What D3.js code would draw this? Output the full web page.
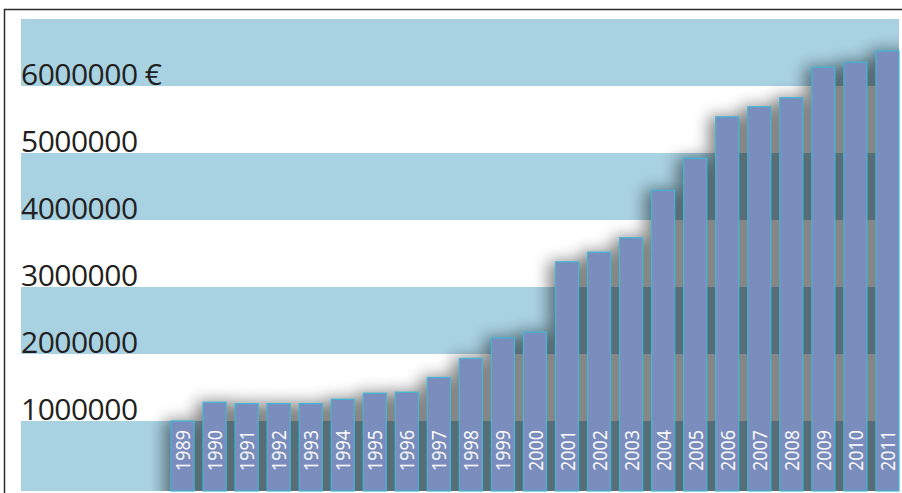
<!DOCTYPE html>
<html>
<head>
<meta charset="utf-8">
<script src="https://cdn.jsdelivr.net/npm/d3@7"></script>
<style>
	body { margin: 0; background: #fff; }
	svg { display: block; }
	.tick-label { font-family: 'Open Sans', sans-serif; font-size: 30px; fill: #231f20; letter-spacing: -0.5px; }
	.year { font-family: 'Open Sans', sans-serif; font-size: 20px; fill: #fff; }
</style>
</head>
<body>
<script>
const years = [1989, 1990, 1991, 1992, 1993, 1994, 1995, 1996, 1997, 1998, 1999, 2000,
	2001, 2002, 2003, 2004, 2005, 2006, 2007, 2008, 2009, 2010, 2011];
const amounts = [1000000, 1280000, 1260000, 1260000, 1260000, 1325000, 1415000, 1430000, 1650000, 1935000, 2240000, 2325000,
	3375000, 3520000, 3735000, 4445000, 4920000, 5540000, 5690000, 5825000, 6280000, 6355000, 6525000];
const tickValues = [1000000, 2000000, 3000000, 4000000, 5000000, 6000000];
const tickLabels = ['1000000', '2000000', '3000000', '4000000', '5000000', '6000000 €'];
const bandValues = [0, 2000000, 4000000, 6000000]; // lower edge of each blue band

const width = 902, height = 493;
const plot = { left: 21, right: 899, top: 19, bottom: 491 };

const data = years.map((y, i) => ({ year: y, value: amounts[i] }));

const svg = d3.select('body')
	.append('svg')
	.attr('width', width)
	.attr('height', height);

const x = d3.scaleBand()
	.domain(years)
	.range([171, plot.right])
	.paddingInner(0.28)
	.paddingOuter(0);

const y = d3.scaleLinear()
	.domain([0, 7000000])
	.range([488, plot.top]);

const defs = svg.append('defs');
defs.append('clipPath')
	.attr('id', 'plot-clip')
	.append('rect')
	.attr('x', plot.left)
	.attr('y', plot.top)
	.attr('width', plot.right - plot.left)
	.attr('height', plot.bottom - plot.top);

defs.append('filter')
	.attr('id', 'soft')
	.attr('filterUnits', 'userSpaceOnUse')
	.attr('x', 0).attr('y', 0)
	.attr('width', width).attr('height', height + 40)
	.append('feGaussianBlur')
	.attr('stdDeviation', 8);

// frame
svg.append('rect')
	.attr('x', 4.5)
	.attr('y', 9.5)
	.attr('width', 1000)
	.attr('height', 1000)
	.attr('fill', 'none')
	.attr('stroke', '#2b2b2b')
	.attr('stroke-width', 1.5);

// alternating blue bands
svg.selectAll('rect.band')
	.data(bandValues)
	.enter()
	.append('rect')
	.attr('class', 'band')
	.attr('x', plot.left)
	.attr('width', plot.right - plot.left)
	.attr('y', d => y(d + 1000000))
	.attr('height', d => (d === 0 ? plot.bottom : y(d)) - y(d + 1000000))
	.attr('fill', '#a8d1e2');

// soft shadow behind the bars
svg.append('g')
	.attr('clip-path', 'url(#plot-clip)')
	.append('g')
	.attr('filter', 'url(#soft)')
	.attr('opacity', 0.47)
	.selectAll('rect')
	.data(data)
	.enter()
	.append('rect')
	.attr('x', d => x(d.year) - 7)
	.attr('width', x.bandwidth() + 17)
	.attr('y', d => y(d.value) - 1)
	.attr('height', d => plot.bottom + 30 - y(d.value))
	.attr('fill', '#000');

// value labels
svg.selectAll('text.tick-label')
	.data(tickValues)
	.enter()
	.append('text')
	.attr('class', 'tick-label')
	.attr('x', 21)
	.attr('y', d => y(d) - 1.5)
	.text((d, i) => tickLabels[i]);

// bars
svg.selectAll('rect.bar')
	.data(data)
	.enter()
	.append('rect')
	.attr('class', 'bar')
	.attr('x', d => x(d.year))
	.attr('width', x.bandwidth())
	.attr('y', d => y(d.value))
	.attr('height', d => plot.bottom - y(d.value))
	.attr('fill', '#7b8dbd')
	.attr('stroke', '#41b6d6')
	.attr('stroke-width', 1.2);

// years, written upward inside the bars
svg.selectAll('text.year')
	.data(data)
	.enter()
	.append('text')
	.attr('class', 'year')
	.attr('transform', d => `translate(${x(d.year) + x.bandwidth() - 4},471) rotate(-90)`)
	.attr('textLength', 41)
	.attr('lengthAdjust', 'spacingAndGlyphs')
	.text(d => d.year);
</script>
</body>
</html>
